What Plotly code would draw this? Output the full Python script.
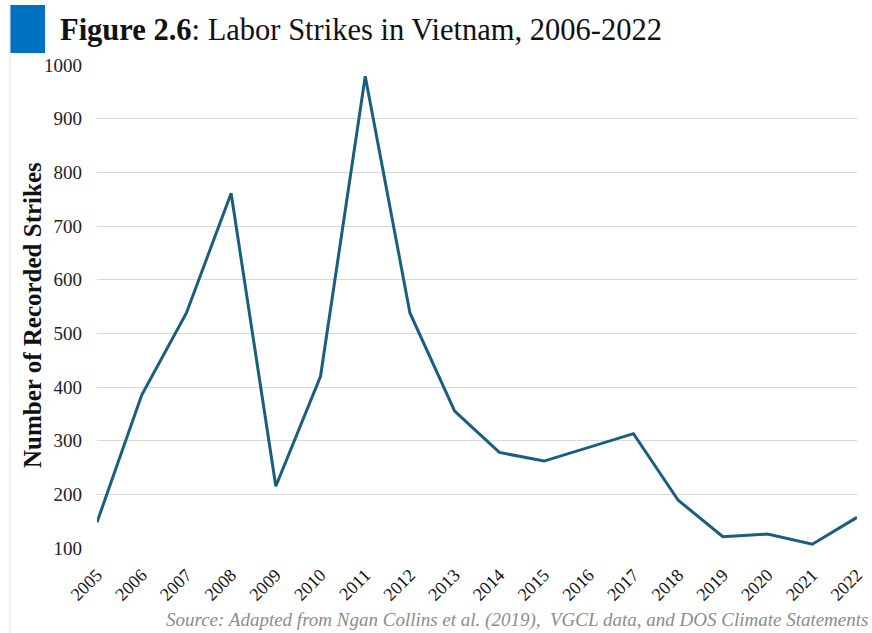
import plotly.graph_objects as go

years = [2005, 2006, 2007, 2008, 2009, 2010, 2011, 2012, 2013, 2014, 2015, 2016, 2017, 2018, 2019, 2020, 2021, 2022]
strikes = [148, 385, 538, 761, 215, 420, 979, 538, 355, 278, 262, 287, 313, 189, 121, 126, 107, 157]
y_ticks = [100, 200, 300, 400, 500, 600, 700, 800, 900, 1000]

SERIF = "Liberation Serif"

fig = go.Figure()
fig.add_trace(go.Scatter(
    x=years, y=strikes, mode="lines",
    line=dict(color="#1A5E7E", width=3),
    showlegend=False,
))

W = 760
H = 483
fig.update_layout(
    width=872, height=633,
    margin=dict(l=97, r=15, t=65, b=85),
    paper_bgcolor="white", plot_bgcolor="white",
    font=dict(family=SERIF, color="#222222"),
    xaxis=dict(
        range=[2005, 2022], tickmode="array", tickvals=years,
        ticktext=[str(y) for y in years], tickangle=-45,
        tickfont=dict(size=18, family=SERIF, color="#111111"),
        showgrid=False, zeroline=False, showline=False, ticks="",
        ticklabelstandoff=12, automargin=False,
    ),
    yaxis=dict(
        range=[100, 1000], tickmode="array", tickvals=y_ticks,
        tickfont=dict(size=19, family=SERIF, color="#222222"),
        showgrid=True, gridcolor="#D9D9D9", gridwidth=1,
        zeroline=False, showline=False, ticks="", ticklabelstandoff=14,
        automargin=False,
    ),
    shapes=[
        dict(type="rect", xref="paper", yref="paper", x0=-87/W, x1=-52/W,
             y0=1 + 12/H, y1=1 + 60/H, fillcolor="#0070C0", line=dict(width=0)),
        dict(type="line", xref="paper", yref="paper", x0=-87/W, x1=-87/W,
             y0=-85/H, y1=1 + 60/H, line=dict(color="#E0E0E0", width=1)),
    ],
    annotations=[
        dict(text="<b>Figure 2.6</b>: Labor Strikes in Vietnam, 2006-2022",
             xref="paper", yref="paper", x=-39/W, y=1 + 35/H,
             xanchor="left", yanchor="middle", showarrow=False,
             font=dict(size=30.5, family=SERIF, color="#111111")),
        dict(text="<b>Number of Recorded Strikes</b>",
             xref="paper", yref="paper", x=-65/W, y=(548 - 315) / H,
             xanchor="center", yanchor="middle", showarrow=False, textangle=-90,
             font=dict(size=25, family=SERIF, color="#111111")),
        dict(text="<i>Source: Adapted from Ngan Collins et al. (2019),  VGCL data, and DOS Climate Statements</i>",
             xref="paper", yref="paper", x=1 + 13/W, y=-72/H,
             xanchor="right", yanchor="middle", showarrow=False,
             font=dict(size=19, family=SERIF, color="#8C8C8C")),
    ],
)

fig.write_html("out.html")
